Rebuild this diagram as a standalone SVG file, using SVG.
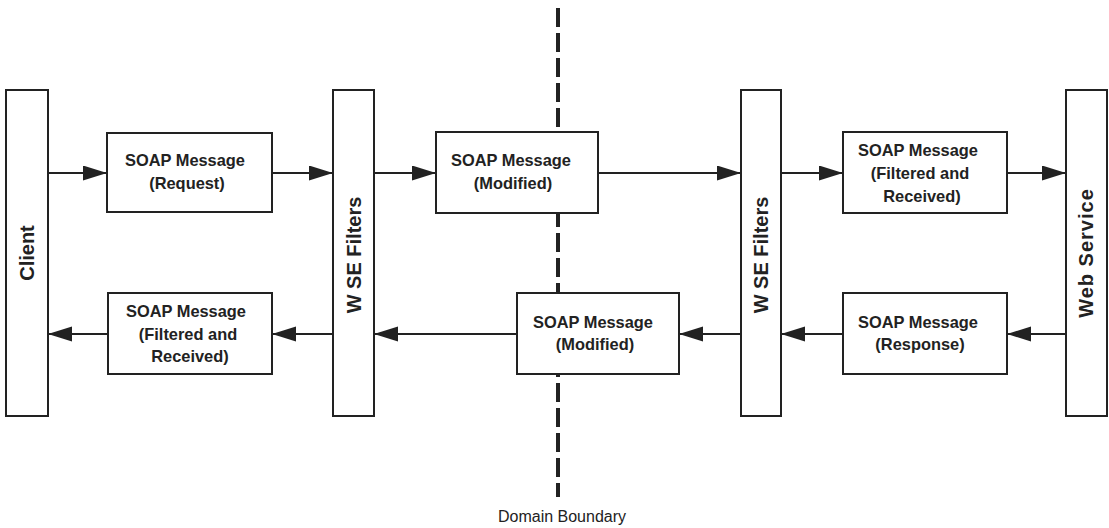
<svg xmlns="http://www.w3.org/2000/svg" width="1109" height="528" viewBox="0 0 1109 528">
  <style>
    .box { fill: #fff; stroke: #222; stroke-width: 2; }
    .lbl { font-family: "Liberation Sans", Arial, sans-serif; font-weight: bold; font-size: 16.4px; fill: #222; text-anchor: middle; }
    .vlbl { font-family: "Liberation Sans", Arial, sans-serif; font-weight: bold; font-size: 20px; fill: #222; text-anchor: middle; }
    .conn { stroke: #222; stroke-width: 2.2; fill: none; marker-end: url(#arrow); }
    .boundary { stroke: #222; stroke-width: 4; stroke-dasharray: 19 6; fill: none; }
    .note { font-family: "Liberation Sans", Arial, sans-serif; font-size: 16px; fill: #222; text-anchor: middle; }
  </style>
  <defs>
    <marker id="arrow" markerUnits="userSpaceOnUse" markerWidth="26" markerHeight="18" refX="24" refY="7.5" orient="auto">
      <path d="M0,0 L24,7.5 L0,15 Z" fill="#222"/>
    </marker>
  </defs>
  <rect width="1109" height="528" fill="#fff"/>

  <!-- domain boundary (behind the boxes) -->
  <g id="domain-boundary">
    <line class="boundary" x1="558" y1="8" x2="558" y2="497"/>
    <text class="note" x="562" y="522">Domain Boundary</text>
  </g>

  <!-- connectors -->
  <g id="connectors">
    <line class="conn" x1="48" y1="173" x2="107" y2="173"/>
    <line class="conn" x1="272" y1="173" x2="333" y2="173"/>
    <line class="conn" x1="374" y1="173" x2="436" y2="173"/>
    <line class="conn" x1="598" y1="173" x2="741" y2="173"/>
    <line class="conn" x1="781" y1="173" x2="843" y2="173"/>
    <line class="conn" x1="1007" y1="173" x2="1066" y2="173"/>
    <line class="conn" x1="1066" y1="334" x2="1007" y2="334"/>
    <line class="conn" x1="843" y1="334" x2="781" y2="334"/>
    <line class="conn" x1="741" y1="334" x2="679" y2="334"/>
    <line class="conn" x1="517" y1="334" x2="374" y2="334"/>
    <line class="conn" x1="333" y1="334" x2="272" y2="334"/>
    <line class="conn" x1="108" y1="334" x2="48" y2="334"/>
  </g>

  <g id="client">
    <rect class="box" x="6" y="90" width="42" height="326"/>
    <text class="vlbl" transform="translate(34,253) rotate(-90)">Client</text>
  </g>

  <g id="wse-filters-client">
    <rect class="box" x="333" y="90" width="41" height="326"/>
    <text class="vlbl" transform="translate(361,255) rotate(-90)">W SE Filters</text>
  </g>

  <g id="wse-filters-service">
    <rect class="box" x="741" y="90" width="40" height="326"/>
    <text class="vlbl" transform="translate(768,255) rotate(-90)">W SE Filters</text>
  </g>

  <g id="web-service">
    <rect class="box" x="1066" y="90" width="41" height="326"/>
    <text class="vlbl" letter-spacing="1" transform="translate(1093,253) rotate(-90)">Web Service</text>
  </g>

  <g id="msg-request">
    <rect class="box" x="107" y="133" width="165" height="79"/>
    <text class="lbl" x="185" y="166">SOAP Message</text>
    <text class="lbl" x="187" y="189">(Request)</text>
  </g>

  <g id="msg-modified-out">
    <rect class="box" x="436" y="132" width="162" height="81"/>
    <text class="lbl" x="511" y="166">SOAP Message</text>
    <text class="lbl" x="513" y="189">(Modified)</text>
  </g>

  <g id="msg-filtered-service">
    <rect class="box" x="843" y="132" width="164" height="81"/>
    <text class="lbl" x="918" y="156">SOAP Message</text>
    <text class="lbl" x="920" y="179">(Filtered and</text>
    <text class="lbl" x="922" y="202">Received)</text>
  </g>

  <g id="msg-response">
    <rect class="box" x="843" y="293" width="164" height="81"/>
    <text class="lbl" x="918" y="328">SOAP Message</text>
    <text class="lbl" x="920" y="350">(Response)</text>
  </g>

  <g id="msg-modified-back">
    <rect class="box" x="517" y="293" width="162" height="81"/>
    <text class="lbl" x="593" y="328">SOAP Message</text>
    <text class="lbl" x="595" y="350">(Modified)</text>
  </g>

  <g id="msg-filtered-client">
    <rect class="box" x="108" y="293" width="164" height="81"/>
    <text class="lbl" x="186" y="317">SOAP Message</text>
    <text class="lbl" x="188" y="340">(Filtered and</text>
    <text class="lbl" x="190" y="362">Received)</text>
  </g>
</svg>
